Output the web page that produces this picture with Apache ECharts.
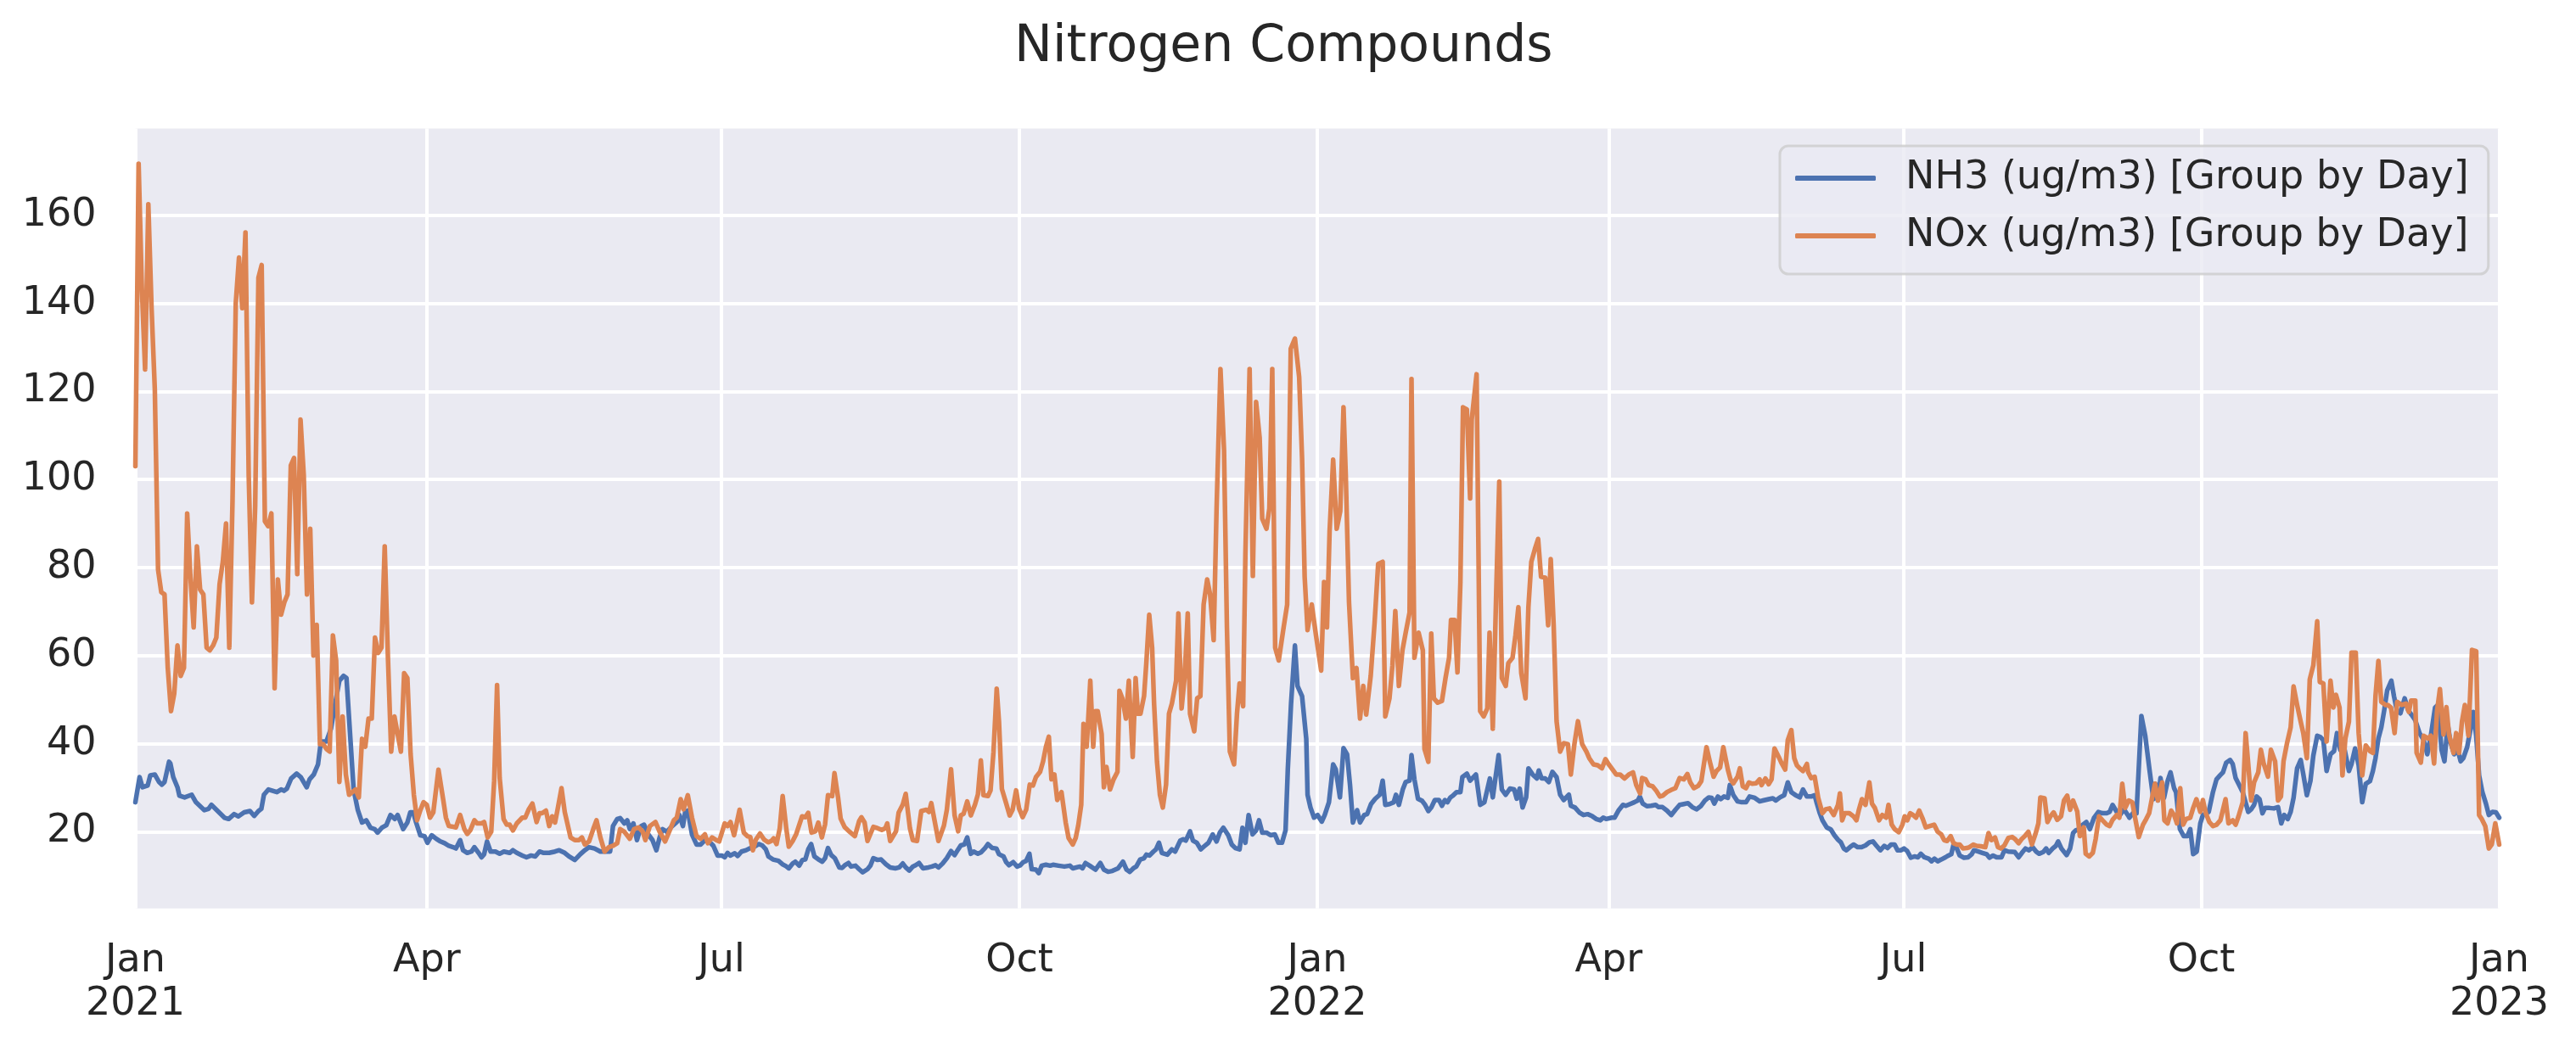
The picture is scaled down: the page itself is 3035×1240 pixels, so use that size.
<!DOCTYPE html>
<html>
<head>
<meta charset="utf-8">
<script src="https://cdn.jsdelivr.net/npm/echarts@6/dist/echarts.min.js"></script>
<style>
html,body{margin:0;padding:0;background:#ffffff;}
#chart{width:3035px;height:1240px;}
</style>
</head>
<body>
<div id="chart"></div>
<script>
// ---------------- data ----------------
const titleText = 'Nitrogen Compounds';
const seriesNames = ['NH3 (ug/m3) [Group by Day]', 'NOx (ug/m3) [Group by Day]'];
const startDate = [2021, 0, 1];
const endDate = [2023, 0, 1];
const xTickMonths = ['Jan', 'Apr', 'Jul', 'Oct'];
const xTickYears = [2021, 2022];
const yTicks = [20, 40, 60, 80, 100, 120, 140, 160];

// [days since 2021-01-01, value]
const nh3Points = [
[0,26.7],[1.3,32.4],[2.2,30.1],[3.8,30.5],[4.6,32.8],[6,33],[7.3,31.3],[8.2,30.7],[9,31.3],[10.4,35.9],[10.8,35.5],[11.7,32.4],[13,30.1],[13.6,28.2],[15.2,27.8],[17.4,28.4],[18.7,26.7],[21.3,24.9],[22.6,25.2],[23.5,26.1],[27.5,23.2],[28.8,22.9],[30.5,24],[31.8,23.5],[33.6,24.4],[35.4,24.7],[36.7,23.6],[38,24.7],[38.9,25.2],[39.7,28.4],[41.1,29.6],[42.4,29.3],[43.7,29],[45,29.6],[45.9,29.3],[46.8,29.8],[48.1,32.1],[49.8,33.2],[51.1,32.4],[52.9,30.1],[53.8,31.9],[55.1,33],[56.4,35.3],[57.3,40.5],[59,40.5],[60.4,43.4],[61.7,49.1],[63,54.3],[64.3,55.4],[65.2,54.9],[66,45.7],[67.4,29.6],[68.7,24.9],[70,22.1],[71.3,22.6],[72.6,20.9],[73.9,20.6],[74.8,19.8],[76.1,20.9],[77.5,21.5],[78.8,23.8],[80.1,22.9],[81,23.8],[82.7,20.6],[84,22.1],[84.9,24.4],[85.8,24.4],[86.7,22.1],[88,19.2],[89.3,19],[90.2,17.5],[91.5,19.2],[92.9,18.4],[94.2,17.8],[95.5,17.4],[96.8,16.8],[98.1,16.5],[99,16.2],[100.3,18.1],[101.2,15.8],[102.5,15.2],[103.8,15.5],[104.7,16.5],[106,15.2],[106.9,14.2],[107.7,14.9],[108.6,17.8],[109.7,15.5],[111.2,15.5],[112.5,15],[113.8,15.5],[115.6,15.2],[116.6,15.8],[117.8,15.2],[119.5,14.6],[120.8,14.2],[122.2,14.6],[123.5,14.4],[124.8,15.5],[126.1,15.2],[127.8,15.2],[129.6,15.5],[130.9,15.8],[132.6,15.2],[133.9,14.4],[135.7,13.6],[137.4,14.9],[138.8,15.8],[140.1,16.5],[141.8,16.2],[143.6,15.5],[145.3,15.5],[146.6,15.5],[147.5,21.3],[148.8,22.9],[149.7,23.1],[151,21.9],[151.9,22.6],[152.7,20.6],[153.8,21.9],[154.9,18.1],[156.2,21.3],[157.1,21.6],[158.4,19.4],[159.7,18.1],[160.9,15.8],[161.9,18.7],[162.8,20.6],[164.1,20],[165.8,21.3],[167.2,22.2],[168,23.8],[169.1,21.3],[169.8,24.5],[170.6,24.8],[171.9,19.4],[173.3,17.1],[174.6,17.1],[175.9,18.1],[177.2,17.8],[178.5,16.8],[179.8,14.6],[181.1,14.6],[182,14.2],[182.9,15.2],[183.7,14.6],
[185.1,15.1],[186,14.5],[187.2,15.5],[188.6,15.8],[189.9,16.3],[191.2,16.6],[192.5,17.2],[193.6,16.9],[194.7,16],[195.5,14.4],[196.9,13.7],[198.6,13.4],[199.9,12.6],[200.9,12.2],[201.8,11.7],[203,12.8],[203.8,13.2],[205,12.3],[206,13.6],[206.9,13.7],[207.8,16],[208.7,17.2],[209.7,14.4],[210.8,13.8],[212.1,13.2],[213,14],[213.9,16.3],[214.9,14.7],[216,14],[217.4,11.9],[218.3,11.8],[219.1,12.4],[220.2,12.9],[221,12.1],[222.4,12.3],[223.5,11.5],[224.6,10.8],[226.1,11.5],[227,12.3],[227.9,14],[229.2,13.6],[230.3,13.7],[231.8,12.6],[233.1,11.9],[234.7,11.7],[235.9,11.9],[237,12.8],[237.9,11.9],[239,11.2],[240.1,12.1],[241,12.4],[242,12.9],[243.2,11.7],[244.9,11.9],[246,12.1],[247.1,12.4],[248,11.9],[249.3,12.8],[250.6,14],[251.9,15.6],[253,14.7],[254.1,16],[254.9,16.9],[256,17.1],[256.9,18.7],[258,15],[258.9,15.5],[260.2,15],[261.1,15.3],[262.4,16.3],[263.3,17.2],[264.6,16.3],[265.9,16.2],[266.7,14.9],[268.1,14.4],[268.9,13.1],[269.8,12.4],[271.1,13.1],[272.3,12.1],[273.3,12.4],[274.2,13.1],[275.1,13.4],[276.1,15],[276.8,11.5],
[278.1,11.4],[279,10.6],[279.9,12.3],[281.2,12.5],[282.5,12.3],[283.4,12.5],[285.1,12.3],[286.9,12.1],[288.6,12.3],[289.5,11.7],[291.7,12.1],[292.5,11.7],[293.4,12.9],[294.7,12.3],[296.5,11.4],[298,12.9],[299.1,11.4],[300.4,10.9],[301.7,11.1],[303.5,11.7],[305,13.2],[306.1,11.4],[307.1,10.9],[308.2,11.7],[309.1,12.1],[310.3,13.7],[311.5,14],[312.2,14.8],[313.2,14.6],[314.4,15.5],[315.2,16],[316.1,17.5],[317,15.2],[318.7,14.8],[320.1,16],[321.1,15.5],[322.7,18],[323.6,18.3],[324.4,18],[325.7,20.1],[326.6,18],[327.8,17.5],[329,16],[330.1,16.7],[331.4,17.5],[332.7,19.4],[333.9,17.8],[334.9,19.8],[336,20.9],[337.5,19.2],[338.6,17.1],[339.7,16.3],[341,16],[341.9,20.9],[342.8,17.5],[343.8,23.8],[345,19.4],[346.1,20.3],[347,22.6],[348,19.8],[349.3,19.8],[350.6,19.2],[351.9,19.4],[353,17.5],[354.1,17.5],[355.2,20.3],[355.9,34.2],[356.9,49.1],[358.1,62.3],[358.9,53.1],[360.3,50.8],[361.6,41.1],[362,28.4],[362.9,25.5],[364,23.2],[365.1,23.8],[366.4,22.3],[367.3,23.8],[368.6,26.7],[369.9,35.3],
[370.7,34.2],[372,27.8],[373.1,39],[374.2,37.6],[375.1,30.7],[376,22.1],[377.3,24.9],[378.2,22.1],[379.5,23.8],[380.4,24],[381.6,26.3],[382.9,27.5],[384.3,28.4],[385.2,31.6],[386,26.1],[387.3,26.3],[388.6,26.7],[389.3,28.4],[390.2,26.1],[391.4,29.6],[392.3,31.3],[393.5,31.6],[394.1,37.4],[395,31.9],[396.1,27.5],[397.4,27],[398.3,26.1],[399.3,24.7],[400.2,25.5],[401.3,27.2],[402.6,27.2],[403.5,25.9],[404.4,27.2],[405.2,26.7],[406.1,27.8],[406.9,28.2],[408,29],[409.2,29],[409.8,32.4],[411.2,33.2],[412.2,31.6],[414,33],[415.3,26.1],[416.6,26.7],[418.3,32.1],[419.2,27.8],[421,37.4],[422,29.6],[423.2,28.4],[424.5,29.8],[425.8,29.6],[426.6,27.5],[427.5,29.8],[428.4,25.5],[429.5,27.8],[430.2,34.4],[431.5,33],[432.8,32.1],[433.4,33.9],[434.3,32.1],[435.4,32.1],[436.5,31.3],[437.6,33.6],[438.9,32.4],[440,28.4],[441.1,27.2],[442.7,28.4],[443.3,25.9],[444.6,25.5],[445.9,24.4],[447.2,23.8],[448.5,24],[449.8,23.6],[451.1,22.9],[452.4,22.6],[453.3,23.2],[454.2,22.9],[456,23.2],[456.8,23.2],[458.1,24.9],[459.4,26.1],[460.3,25.9],[461.6,26.3],[462.9,26.7],
[464,27.1],[464.6,28],[465.5,26.4],[466.8,25.8],[468.1,25.9],[469.5,26.1],[470.4,25.6],[471.6,25.6],[473,24.8],[474.3,23.8],[475.6,25],[476.9,26.1],[478.2,26.3],[479.5,26.5],[480.8,25.6],[482.1,25.1],[483.4,25.8],[484.7,27.1],[485.9,27.8],[486.8,27.7],[487.6,26.4],[488.7,28],[489.6,27.4],[490.6,28],[491.8,27.7],[492.4,30.6],[493.5,28.3],[494.8,26.9],[496.1,26.7],[497.4,26.7],[498.5,28],[500.1,27.7],[501.6,26.9],[502.7,27.1],[504.4,27.4],[505.7,27.6],[506.6,27.1],[507.9,27.8],[509.2,28.3],[510.3,31.2],[511.4,29],[512.7,28.3],[514,27.8],[515,29.6],[516.2,28],[517.5,28],[518.6,28.3],[519.3,26.4],[520.2,24.2],[521,22.6],[522.3,21],[523.6,20.5],[524.7,19.2],[525.8,18.2],[526.7,17.6],[527.6,16.2],[528.4,15.8],[529.5,16.5],[530.6,17.1],[531.9,16.5],[533.1,16.5],[534.3,16.9],[535.5,17.6],[536.6,17.8],[537.6,16.9],[538.9,15.8],[540.1,16.8],[541.1,16.3],[542.2,17.1],[543.3,17.1],[544.2,15.8],[545.3,15.8],[546.2,16.2],[547.2,15.6],[548.3,14.1],[549.4,14.4],[550.5,14.2],[551.4,15],[552.5,14.2],[553.8,13.9],[554.7,13.3],[555.6,13.9],
[556.6,13.3],[557.7,13.7],[559,14.2],[559.9,14.6],[560.8,14.9],[561.5,17.1],[562.5,16.2],[563.4,14.6],[564.7,14.1],[566,14.2],[567.1,14.9],[567.8,15.8],[569.1,15.5],[570.4,15.2],[571.7,14.9],[572.6,14.1],[573.7,14.6],[574.8,14.2],[576.3,14.2],[577.2,15.8],[578.4,15.5],[580.4,15.4],[581.6,14.2],[582.6,15.2],[583.7,16.2],[584.8,15.8],[585.9,16.5],[587,15.5],[587.9,15],[589.2,15.4],[590.1,16.2],[590.9,15.2],[592.1,16.2],[593.1,16.8],[593.8,17.8],[594.8,16.2],[596.4,14.7],[597.5,16.2],[598.4,19.7],[599.2,20.3],[600.3,20.6],[601.4,21.6],[602.5,22.2],[603.6,20.6],[604.9,23.2],[606.2,24.5],[607.5,24.2],[608.8,24.2],[609.7,24.5],[610.6,26.1],[611.9,24.5],[612.8,23.7],[614.1,25.1],[615.4,23.7],[615.8,23.2],[616.9,24.2],[618,24.2],[619.5,46.3],[620.7,41.8],[622,34.1],[623.2,27.4],[623.8,30.9],[624.6,27.1],[625.4,32.2],[626.5,27.7],[627.6,31.5],[628.5,33.5],[629.6,29.9],[630.2,29],[631.4,20.6],[632.6,19],[633.7,19],[634.6,20.6],[635.5,14.9],[636.6,15.5],[637.7,21.9],[638.5,23.8],[640.3,24.5],[641.6,29],[642.7,31.9],[643.8,32.8],[644.7,33.5],[645.7,35.7],[646.9,36.3],[647.7,35.4],[648.6,32.2],[649.5,30.9],
[650.8,29],[652.5,24.5],[653.4,25.1],[654.3,26.1],[655.1,28],[656,27.4],[656.9,24.2],[657.7,25.4],[659.1,25.4],[660.4,25.3],[661.7,25.6],[662.7,21.9],[663.6,23.8],[664.7,22.9],[665.6,24.5],[666.5,27.7],[667.6,34.4],[668.7,36.3],[669.5,33.1],[670.6,28.3],[671.7,31.5],[672.6,37.3],[673.8,41.8],[674.8,41.5],[675.7,40.8],[676.7,33.8],[677.9,37.6],[679,38.3],[679.9,42.4],[680.9,38.6],[682,39.6],[683.6,33.8],[684.4,35.4],[685.5,38.9],[686.6,35.1],[687.7,26.7],[688.8,30.9],[690.1,31.5],[691,33.8],[691.8,36.7],[692.7,41.2],[693.6,43.7],[694.5,47.6],[695.4,52.1],[696.7,54.3],[697.5,50.8],[698.4,47.6],[699.5,46.9],[700.8,50.3],[701.9,47.6],[702.9,46.6],[704.1,45.3],[705.4,42.4],[706.7,40.8],[707.8,37.6],[708.9,41.8],[710.2,48.2],[711.1,48.8],[712.2,38.6],[713.1,36],[714.1,44.4],[715,40.2],[716.1,37.6],[717.2,38.6],[718.1,36],[718.9,36.7],[720.1,39.2],[721.1,43.1],[722,47.2],[722.9,41.8],[723.8,32.8],[724.8,29],[725.9,26.4],[726.8,23.8],[727.9,24.5],[729,24.4],[730,23.2]
];

const noxPoints = [
[0,103],[1,171.7],[2,143.5],[3,125],[4,162.5],[5,138.9],[6,120.5],[7,79.6],[8,74.4],[9,73.9],[10,57.2],[11,47.4],[12,51.4],[13,62.3],[14,55.4],[15,57.2],[16,92.3],[17,77.9],[18,66.4],[19,84.8],[20,75],[21,73.9],[22,61.8],[23,61.2],[24,62.3],[25,64.1],[26,76.2],[27,81.3],[28,90],[29,61.8],[30,95.1],[31,140],[32,150.4],[33,138.9],[34,156.1],[35,100.9],[36,72.1],[37,94],[38,145.8],[39,148.7],[40,90.5],[41,89.4],[42,92.3],[43,52.6],[44,77.3],[45,69.3],[46,72.1],[47,73.9],[48,103.2],[49,104.9],[50,78.5],[51,113.6],[52,100.9],[53,73.9],[54,88.8],[55,60],[56,67],[57,39.9],[58,39.9],[59,38.8],[60,38.2],[61,64.6],[62,58.9],[63,31.3],[64,46.2],[65,33],[66,28.4],[67,29],[68,29.6],[69,27.8],[70,41.1],[71,39.3],[72,45.7],[73,45.7],[74,64.1],[75,60.6],[76,61.8],[77,84.8],[78,59.5],[79,38.2],[80,46.2],[81,42.2],[82,38.2],[83,56],[84,54.9],[85,37.6],[86,28.4],[87,22.6],[88,24.9],[89,26.7],[90,26.1],[91,23.2],[92,24.4],
[93.6,34.1],[95.1,27.1],[95.9,23.2],[96.8,21.3],[97.7,21.2],[99,21],[100.3,23.8],[101.6,20.6],[102.5,19.5],[103.4,20.3],[104.7,22.6],[105.6,21.9],[106.9,21.9],[107.7,22.2],[108.8,18.7],[109.9,20],[110.8,31.5],[111.7,53.3],[112.5,32.2],[113.7,22.9],[114.7,21.6],[115.6,21.6],[116.6,20.3],[117.8,21.9],[119.5,23.2],[120.4,23.2],[121.5,25.1],[122.6,26.4],[123.9,22.2],[124.8,24.2],[125.6,24.2],[126.8,24.8],[127.8,21.3],[128.7,23.5],[129.6,22.1],[130.4,25.1],[131.6,29.9],[132.6,24.5],[134.4,18.7],[135.7,18.1],[137,18.1],[137.9,18.7],[138.8,17.1],[140.1,17.8],[141.4,20.6],[142.4,22.6],[143.6,18.7],[144.9,15.5],[146.2,16.5],[147.5,16.8],[148.8,17.4],[149.7,20.6],[151,20],[152.7,18.4],[154,20.6],[155.4,21],[156.7,20],[157.5,18.1],[158.9,21.3],[160.6,22.2],[161.9,20],[163.6,17.8],[165,20.3],[166.3,22.6],[167.2,23.2],[168.4,27.4],[169.3,25.1],[170.6,28.3],[171.9,23.2],[173.3,19],[174.6,18.4],[175.9,19.4],[176.8,17.4],[178.1,18.7],[179.4,18.1],[180.3,17.8],[182,21.9],[182.9,21.3],
[183.8,22.2],[184.9,19.2],[186.6,25],[187.9,19.8],[189,19],[189.9,18.8],[190.7,15.8],[191.6,18.2],[192.9,19.6],[194.2,18.2],[195.4,17.6],[196.4,17.9],[197.1,18.5],[198,17.2],[199,20.8],[199.9,28.1],[201,20.8],[201.8,16.6],[203,17.9],[204.1,19.5],[205.9,23.5],[206.9,23.3],[207.8,24.3],[208.8,19.8],[210,20.1],[210.9,22.1],[212,18.7],[213,21.7],[213.9,28.3],[215.2,28.1],[215.9,33.3],[217,27.8],[217.8,23],[219,21.1],[220.4,20.1],[222.2,19],[223.5,22.4],[224.2,23.3],[225.2,22.1],[226.1,17.9],[227.9,21.1],[229.2,20.8],[230.5,20.4],[231.6,20.8],[232.2,21.9],[233.1,17.9],[234.9,20.1],[235.7,24.3],[237,26.2],[237.9,28.6],[239.2,20.8],[240.1,18.1],[241.4,17.9],[242.7,24.7],[244.3,25],[245.1,24.5],[245.8,26.5],[247.1,21.4],[248,17.9],[249.7,21.4],[250.6,25],[251.9,34.2],[253,23.7],[254.1,20.1],[254.9,23.7],[255.8,24.1],[256.9,26.9],[258,23.7],[259.3,26.2],[260.2,28.5],[261.1,36.2],[261.9,28.3],[263.3,28.1],[264.1,29.4],[265,38.1],[266,52.5],[266.7,45.1],[267.6,29.7],[268.9,26.5],[270,23.7],[270.9,25],[272,29.4],[272.9,25.3],[274,23.3],[275.1,25],
[276.2,30.7],[277.2,30.5],[278.1,32.4],[279.4,33.6],[280.3,35.9],[281.2,39.3],[282.1,41.6],[282.9,31.9],[283.8,33],[284.7,27.2],[286,29],[287.3,22.1],[288.2,18.6],[289.5,17.1],[290.4,18.6],[291.2,21.5],[292.1,26.1],[292.8,44.5],[293.8,39.3],[294.9,54.3],[295.8,39.3],[296.5,47.4],[297.2,47.4],[298.4,42.2],[299.1,30.1],[299.9,34.7],[301,29.6],[302.1,31.9],[303.3,33.6],[303.9,52],[304.8,50.3],[305.9,45.7],[306.8,54.3],[308,37],[308.9,54.9],[309.6,46.8],[310.4,46.8],[311.5,50.8],[312.2,58.3],[313.1,69.3],[314,61.8],[314.6,49.1],[315.5,35.9],[316.4,28.4],[317.3,25.5],[318.3,30.7],[319.2,46.8],[320.1,49.1],[321.4,54.3],[322.1,69.6],[323.1,48],[324,54.9],[325,69.6],[325.7,46.8],[327,42.8],[327.9,50.3],[328.9,50.8],[329.9,71.6],[331,77.3],[331.9,73.9],[333,63.5],[333.9,93.4],[335.1,125.1],[336.2,106.7],[337.1,66.4],[338,38.2],[339.3,35.3],[340.2,46.8],[341,53.7],[342.1,48.5],[342.8,83.1],[344.1,125.1],[345.1,78.1],[346.1,117.6],[347.2,109.5],[348,91.1],[349.3,88.8],[350.2,93.4],[351.1,125.1],[352,61.8],[353.1,58.9],[354.6,66.4],[355.7,71.6],[356.8,129.7],[358.1,132],[359.4,123.3],[360.3,104.9],[361.1,77.9],[362,65.8],[363.3,71.6],[364.6,64.6],[366.2,56.6],[367.1,76.7],[368,66.4],[368.8,88.2],[369.9,104.5],
[371,88.8],[372.1,92.8],[373.1,116.4],[373.8,100.9],[374.8,72.1],[376,54.9],[377.1,57.2],[378.2,45.7],[379.2,53.1],[380.1,46.6],[381.5,55.4],[382.7,67.5],[383.8,80.8],[385.2,81.3],[386,46.2],[387.3,50.3],[388.2,57.7],[389.1,70.1],[390.2,53.1],[391.3,61.2],[392.3,65.2],[393.5,69.8],[394.1,122.8],[395,59.5],[396.3,65.2],[397.6,61.2],[398.1,38.8],[399.3,35.9],[400.2,65],[401,50.3],[402.2,49.3],[403.5,49.7],[404.6,54.9],[405.7,59.5],[406.3,68.1],[407.4,68.1],[408.3,56.2],[409.2,76.7],[410,116.4],[411.2,115.9],[412.2,95.7],[412.7,113.6],[414.2,123.9],[415.3,47.4],[416.4,46.2],[417.5,48],[418.2,65.2],[419.2,43.4],[420.3,75.6],[421.2,99.5],[422,54.9],[423.2,53.1],[424,58.3],[425.3,59.5],[426.2,64.6],[427.1,71],[428,56],[429.3,50.3],[430.2,71],[431.1,81.3],[432.2,84.2],[433.2,86.5],[434.1,77.9],[435.4,77.7],[436.3,66.9],[437.1,81.9],[438,66.9],[438.9,45.1],[440,38.2],[441.1,40.1],[442.4,39.9],[443.3,33],[444.4,39.9],[445.5,45.1],[446.8,39.9],[448.1,38.2],[449,36.7],[450.3,35.3],[451.6,35.1],[452.9,34.4],[454,36.5],[455,35.3],[456.4,33.9],[457.3,33],[458.5,33],[459.9,32.1],[461.2,33],
[462.5,33.5],[463.5,30.6],[464.7,28.7],[465.3,32.2],[466.4,31.9],[467.3,30.6],[468.6,30.3],[469.7,29.3],[470.8,28],[471.7,28.2],[473,29],[474.3,29.5],[475.6,29.9],[476.9,32.2],[478.2,31.9],[479.3,33.1],[480.2,31.2],[481.3,29.9],[482.6,30.4],[483.6,31.5],[485.2,39.2],[486.2,36],[487.4,32.5],[488.3,33.8],[489.4,34.6],[490.4,39.2],[491.8,34.1],[492.6,31.9],[493.5,31],[494.8,32.5],[495.5,34.4],[496.4,30.3],[497.4,29.9],[498.3,31.2],[499.3,30.9],[500.5,31],[501.6,31.9],[502.2,30.6],[503.4,32.1],[504.4,30.8],[505.3,31.9],[506.2,38.9],[507.5,37],[508.3,35.7],[509.5,34.1],[510.3,40.8],[511.4,43.1],[512.3,36.7],[513.1,35.1],[514,34.4],[515,33.8],[516.2,35.4],[516.6,33.5],[517.5,32.2],[518.6,32.5],[519.7,27.7],[521,24.2],[522,25.1],[523.2,25.3],[524.5,23.8],[525.8,26.1],[526.4,28.7],[527.1,22.6],[527.9,24.2],[529.3,24.2],[530.6,23.5],[531.5,22.6],[532.3,25.1],[533.2,27.4],[534.3,26.1],[535.5,31.2],[536.3,26.4],[537.2,25.4],[538.5,22.6],[539.5,23.8],[540.7,23.2],[541.4,26.1],[542.4,21.6],[543.3,20.6],[544.6,19.9],[545.7,21.6],[546.4,23.5],[547.2,22.6],[548.1,24.2],[549,23.8],[549.9,23.2],[550.9,24.8],[552,22.9],[552.9,21],[554.2,21.3],
[555.5,21.6],[556.6,20],[557.7,19.4],[558.6,18.1],[559.5,17.9],[560.6,19],[561.5,17.4],[562.5,17.1],[563.4,17.1],[564.4,16.2],[565.6,16.3],[566.4,16.5],[567.6,17.1],[568.6,16.8],[569.9,16.7],[571.3,16.5],[572.3,19.7],[573.2,18.1],[574.3,18.7],[575.2,16.5],[576.1,16.2],[577.2,16.9],[578.4,18.6],[579.6,18.8],[580.4,18.4],[581.6,17.4],[582.6,18.4],[583.5,19],[584.6,20],[585.7,17.1],[586.8,19.5],[587.7,21.9],[588.3,27.8],[589.6,27.6],[590.5,22.2],[591.4,23.5],[592.4,24.4],[593.5,22.7],[594.7,23.5],[595.6,27.1],[596.6,28.2],[597.5,25],[598.4,27.1],[599.7,24.6],[600.5,19],[601.7,21],[602.3,15],[603.4,14.4],[604.5,15.2],[605.4,18.4],[606.4,23.5],[607.5,22.6],[608.8,21.6],[609.7,21.3],[610.6,22.7],[611.9,23.8],[612.7,23.2],[613.6,30.9],[614.5,25.4],[615.6,27.1],[616.7,26.7],[617.4,23.8],[618.7,18.8],[620,21.6],[621,22.9],[621.9,24.2],[622.8,27.7],[623.7,30.9],[624.6,27.1],[625.9,31.2],[626.6,22.6],[627.6,21.9],[628.7,24.8],[629.6,23.8],[630.5,21.9],[631.5,29.9],[632.4,21.6],[633.3,22.9],[634.6,23.2],[635.5,25.4],[636.5,27.4],[637.7,24.5],[638.5,27.2],[639.4,24.2],[640.5,22.2],[641.6,21.3],[642.7,21.6],[643.9,22.6],[645.5,27.4],[646.4,21.9],[647.7,22.6],
[648.6,21.6],[649.5,23.5],[650.8,26.7],[651.7,42.4],[652.5,35.4],[653.4,27.1],[654.3,31.2],[655.6,33.5],[656.4,38.6],[657.3,35.4],[658.6,32.5],[659.5,38.6],[660.8,36],[661.7,27.1],[662.6,28],[663.4,36],[664.5,40.2],[665.6,43.7],[666.5,53],[667.6,48.8],[668.7,45],[669.5,42.4],[670.6,36.7],[671.5,54.6],[672.6,57.8],[673.8,67.8],[674.6,54],[675.7,53.7],[676.7,40.5],[677.9,54.3],[678.8,48.2],[679.6,51.1],[680.7,48.2],[681.6,32.8],[682.5,41.2],[683.6,45],[684.4,60.7],[685.7,60.7],[686.6,42.4],[687.7,32.8],[688.8,39.6],[690.1,38.3],[691,37.9],[691.8,50.8],[692.7,58.8],[693.6,49.5],[694.9,48.8],[695.6,48.8],[696.6,48.2],[697.7,42.4],[698.5,49.5],[699.9,48.8],[701.2,49.1],[702.1,47.2],[702.8,49.8],[704.1,49.8],[704.5,37.9],[705.8,35.7],[706.7,41.8],[708,41.2],[708.9,41.8],[709.9,35.5],[710.8,47.3],[711.7,52.4],[712.8,42.1],[713.7,48.3],[714.5,42.1],[715.9,37.9],[716.7,42.4],[717.6,37.9],[718.5,45],[719.4,48.8],[720.5,41.8],[721.6,61.3],[722.9,61],[723.8,23.8],[724.6,22.9],[725.7,21.3],[726.8,16.2],[727.7,17.1],[728.8,21.9],[730,17.1]
];

// ---------------- chart ----------------
const DAY = 86400000;
const t0 = Date.UTC(startDate[0], startDate[1], startDate[2]);
const tEnd = Date.UTC(endDate[0], endDate[1], endDate[2]);
const toSeries = pts => pts.map(p => [t0 + p[0] * DAY, p[1]]);

const xTickValues = [];
xTickYears.forEach(y => xTickMonths.forEach((m, i) => xTickValues.push(Date.UTC(y, i * 3, 1))));
xTickValues.push(tEnd);

const FONT = 'DejaVu Sans';
const TEXT = '#262626';

const chart = echarts.init(document.getElementById('chart'), null, { renderer: 'canvas', width: 3035, height: 1240 });

chart.setOption({
  animation: false,
  backgroundColor: '#ffffff',
  textStyle: { fontFamily: FONT, color: TEXT },
  title: {
    text: titleText,
    left: 1190,
    top: 21,
    textStyle: { fontSize: 60, fontWeight: 'normal', color: TEXT, fontFamily: FONT }
  },
  legend: {
    orient: 'vertical',
    left: 2097,
    top: 172,
    padding: [12, 23, 19, 18],
    itemGap: 16,
    itemWidth: 95,
    itemHeight: 6,
    icon: 'roundRect',
    selectedMode: false,
    backgroundColor: 'rgba(234,234,242,0.8)',
    borderColor: 'rgba(204,204,204,0.8)',
    borderWidth: 3,
    borderRadius: 10,
    textStyle: { fontSize: 46, lineHeight: 52, color: TEXT, fontFamily: FONT, padding: [0, 0, 0, 30] },
    data: seriesNames
  },
  grid: {
    left: 159.5, right: 90.5, top: 151.5, bottom: 169.3,
    show: true, backgroundColor: '#EAEAF2', borderWidth: 0,
    containLabel: false, outerBoundsMode: 'none'
  },
  xAxis: {
    type: 'value',
    min: t0,
    max: tEnd,
    axisLine: { show: false },
    axisTick: { show: false, customValues: xTickValues },
    splitLine: { show: true, lineStyle: { color: '#ffffff', width: 4 } },
    axisLabel: {
      customValues: xTickValues,
      fontSize: 46,
      lineHeight: 51,
      margin: 37,
      color: TEXT,
      fontFamily: FONT,
      align: 'center',
      formatter: function (v) {
        const d = new Date(v);
        const m = d.getUTCMonth();
        const name = xTickMonths[Math.round(m / 3)];
        return m === 0 ? name + '\n' + d.getUTCFullYear() : name;
      }
    }
  },
  yAxis: {
    type: 'value',
    min: 2.6,
    max: 179.7,
    minInterval: 20,
    maxInterval: 20,
    axisLine: { show: false },
    axisTick: { show: false, customValues: yTicks },
    splitLine: { show: true, lineStyle: { color: '#ffffff', width: 4 } },
    axisLabel: {
      customValues: yTicks,
      fontSize: 46,
      margin: 46,
      color: TEXT,
      fontFamily: FONT
    }
  },
  series: [
    {
      name: seriesNames[0], type: 'line', data: toSeries(nh3Points),
      symbol: 'none', showSymbol: false,
      lineStyle: { color: '#4C72B0', width: 5.5, cap: 'round', join: 'round' },
      itemStyle: { color: '#4C72B0' }
    },
    {
      name: seriesNames[1], type: 'line', data: toSeries(noxPoints),
      symbol: 'none', showSymbol: false,
      lineStyle: { color: '#DD8452', width: 5.5, cap: 'round', join: 'round' },
      itemStyle: { color: '#DD8452' }
    }
  ]
});
</script>
</body>
</html>
